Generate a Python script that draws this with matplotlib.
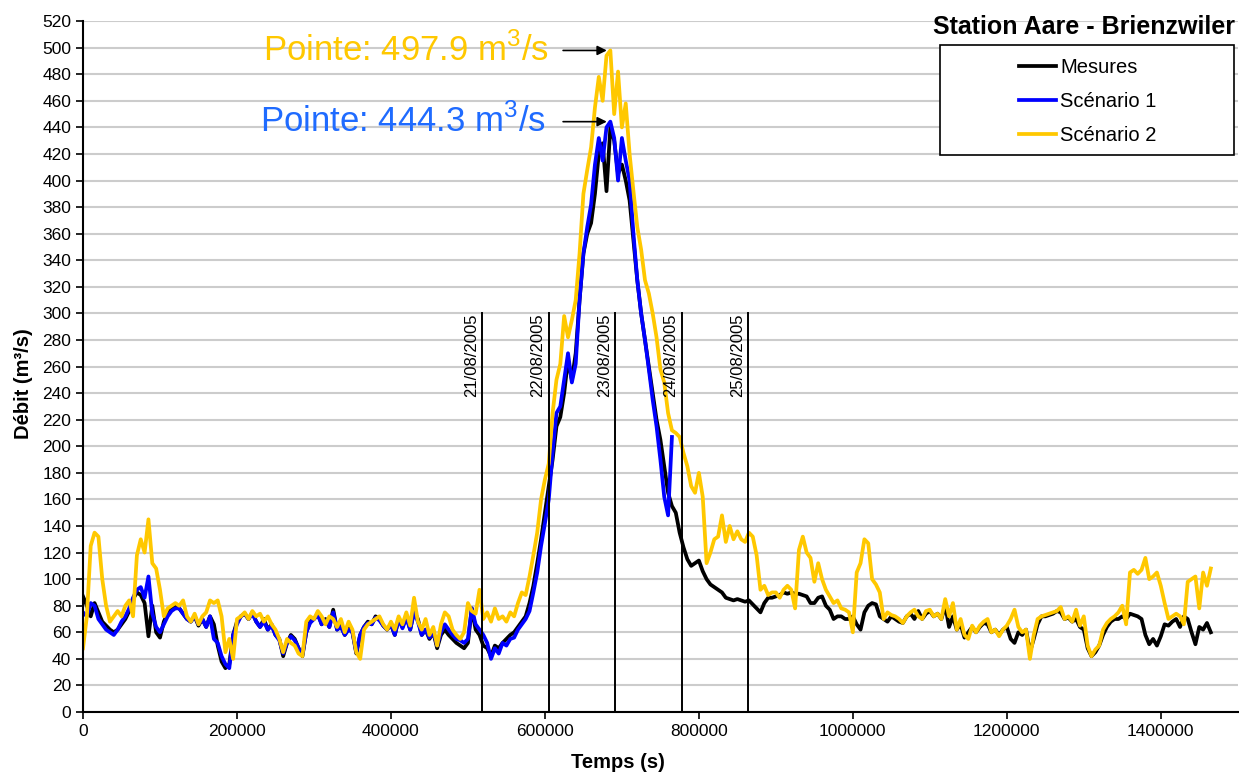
import numpy as np
import matplotlib
matplotlib.use("Agg")
import matplotlib.pyplot as plt
from matplotlib.patches import Rectangle

plt.rcParams["font.family"] = ["Liberation Sans", "DejaVu Sans"]
plt.rcParams["mathtext.fontset"] = "custom"
plt.rcParams["mathtext.rm"] = "Liberation Sans"

# time grid (s), one reading every 5000 s
temps = np.arange(0, 1470000, 5000)
temps_sc1 = np.arange(0, 770000, 5000)

mesures = [
    87, 80, 72, 82, 75, 68, 65, 62, 60, 62, 66, 70, 76, 85, 90, 88, 82, 57, 80, 60,
    56, 68, 75, 78, 80, 78, 74, 70, 68, 72, 65, 70, 64, 72, 66, 50, 38, 33, 36, 58,
    68, 72, 74, 70, 75, 68, 64, 70, 62, 66, 58, 55, 42, 52, 58, 55, 48, 42, 60, 68,
    70, 74, 66, 70, 64, 77, 62, 65, 58, 63, 60, 44, 58, 64, 68, 66, 72, 70, 65, 62,
    66, 58, 70, 64, 72, 62, 76, 70, 58, 62, 55, 60, 48, 58, 62, 58, 55, 52, 50, 48,
    52, 78, 62, 58, 50, 48, 42, 50, 48, 52, 55, 58, 60, 64, 68, 72, 82, 95, 112, 130,
    150, 170, 190, 215, 222, 240, 265, 250, 270, 310, 345, 360, 368, 390, 420, 428, 392, 440, 430, 405,
    412, 400, 385, 355, 325, 300, 280, 260, 240, 220, 205, 185, 165, 155, 150, 135, 124, 115, 110, 112,
    114, 106, 100, 96, 94, 92, 90, 86, 85, 84, 85, 84, 83, 84, 81, 78, 75, 82, 86, 86,
    87, 88, 90, 89, 90, 89, 89, 88, 87, 82, 82, 86, 87, 80, 77, 70, 72, 72, 70, 70,
    72, 66, 62, 75, 80, 82, 81, 72, 70, 68, 72, 70, 68, 67, 72, 74, 70, 76, 70, 74,
    76, 72, 74, 70, 80, 64, 72, 62, 66, 56, 60, 64, 60, 64, 67, 66, 60, 62, 58, 62,
    64, 55, 52, 60, 58, 62, 45, 55, 66, 72, 72, 73, 74, 76, 75, 70, 71, 68, 70, 64,
    62, 48, 42, 45, 50, 58, 64, 68, 70, 70, 72, 70, 74, 73, 72, 70, 58, 51, 55, 50,
    57, 66, 65, 68, 70, 64, 72, 70, 60, 51, 64, 62, 67, 60,
]

scenario1 = [
    75, 72, 82, 80, 70, 66, 62, 60, 58, 62, 68, 72, 78, 86, 92, 94, 86, 102, 74, 64,
    60, 66, 72, 76, 78, 78, 74, 70, 68, 72, 66, 70, 64, 72, 55, 52, 42, 36, 33, 58,
    66, 72, 74, 70, 74, 68, 64, 68, 62, 65, 58, 54, 44, 52, 57, 54, 48, 43, 60, 67,
    70, 73, 66, 69, 64, 75, 62, 64, 58, 62, 60, 45, 58, 64, 67, 66, 71, 69, 65, 62,
    66, 58, 70, 63, 71, 62, 75, 68, 58, 62, 56, 60, 50, 60, 66, 62, 58, 55, 54, 52,
    55, 78, 66, 62, 58, 52, 40, 48, 44, 52, 50, 55, 56, 62, 66, 70, 76, 90, 105, 125,
    142, 160, 195, 225, 230, 250, 270, 248, 262, 310, 345, 365, 382, 412, 432, 415, 440, 444.3, 432, 400,
    432, 415, 400, 360, 325, 300, 280, 258, 235, 215, 190, 162, 148, 207,
]

scenario2 = [
    48, 72, 125, 135, 132, 100, 80, 68, 72, 76, 72, 80, 84, 72, 118, 130, 120, 145, 112, 108,
    92, 72, 78, 80, 82, 80, 84, 72, 68, 74, 66, 72, 75, 84, 82, 84, 72, 45, 55, 40,
    70, 72, 75, 70, 76, 72, 74, 68, 72, 66, 62, 55, 45, 55, 52, 50, 44, 42, 68, 72,
    70, 76, 72, 66, 72, 70, 64, 70, 60, 68, 62, 45, 40, 62, 66, 68, 70, 72, 66, 62,
    68, 62, 72, 66, 75, 65, 86, 68, 62, 70, 58, 64, 50, 66, 75, 72, 62, 58, 55, 60,
    82, 76, 74, 92, 70, 75, 68, 78, 70, 72, 68, 75, 72, 82, 90, 88, 102, 118, 135, 160,
    175, 187, 225, 250, 262, 298, 282, 295, 310, 345, 390, 408, 425, 455, 478, 460, 494, 497.9, 450, 482,
    440, 458, 420, 392, 365, 348, 325, 315, 300, 282, 258, 248, 225, 212, 210, 207, 195, 185, 170, 165,
    180, 162, 112, 120, 130, 132, 148, 128, 140, 130, 136, 130, 128, 135, 132, 118, 92, 95, 88, 90,
    90, 86, 92, 95, 92, 78, 122, 132, 120, 116, 98, 112, 100, 92, 87, 82, 84, 78, 77, 75,
    60, 105, 112, 130, 127, 100, 96, 90, 70, 75, 73, 72, 70, 67, 72, 75, 77, 72, 70, 76,
    77, 72, 74, 70, 85, 72, 82, 62, 70, 58, 55, 65, 60, 65, 68, 70, 60, 62, 57, 62,
    65, 70, 77, 64, 60, 62, 40, 58, 70, 72, 73, 74, 75, 76, 79, 70, 72, 68, 77, 65,
    72, 50, 42, 47, 50, 62, 67, 70, 72, 75, 80, 66, 105, 107, 104, 107, 116, 100, 102, 105,
    95, 82, 70, 72, 74, 72, 66, 98, 100, 102, 78, 105, 95, 108,
]

dates = ["21/08/2005", "22/08/2005", "23/08/2005", "24/08/2005", "25/08/2005"]
dates_s = [518400, 604800, 691200, 777600, 864000]

fig = plt.figure(figsize=(12.39, 7.72), dpi=100)
ax = fig.add_axes([0.067, 0.0777, 0.932, 0.895])

ax.plot(temps, mesures, color="black", lw=2.7, label="Mesures")
ax.plot(temps_sc1, scenario1, color="#0000FF", lw=2.7, label="Scénario 1")
ax.plot(temps, scenario2, color="#FFC800", lw=2.7, label="Scénario 2")

# day markers
for d, lab in zip(dates_s, dates):
    ax.plot([d, d], [0, 300], color="black", lw=1.4, zorder=4)
    ax.text(d - 4000, 300, lab, rotation=90, ha="right", va="top", fontsize=12)

# peak annotations
ax.annotate("", xy=(684000, 497.9), xytext=(620000, 497.9),
            arrowprops=dict(arrowstyle="-|>", color="black", lw=1.2, mutation_scale=14))
ax.text(605000, 497.9, "Pointe: 497.9 m$^3$/s", color="#FFC800", fontsize=25,
        ha="right", va="center")
ax.annotate("", xy=(684000, 444.3), xytext=(620000, 444.3),
            arrowprops=dict(arrowstyle="-|>", color="black", lw=1.2, mutation_scale=14))
ax.text(602000, 444.3, "Pointe: 444.3 m$^3$/s", color="#1F6BFF", fontsize=25,
        ha="right", va="center")

ax.set_xlim(0, 1500000)
ax.set_ylim(0, 520)
ax.set_xticks(np.arange(0, 1500000, 200000))
ax.set_xticklabels([str(v) for v in range(0, 1500000, 200000)])
ax.set_yticks(np.arange(0, 521, 20))
ax.tick_params(labelsize=12.5, length=5, width=1.2, direction="out")
ax.yaxis.grid(True, color="#cccccc", lw=1.5)
ax.set_axisbelow(True)
for s in ["top", "right"]:
    ax.spines[s].set_visible(False)
for s in ["left", "bottom"]:
    ax.spines[s].set_linewidth(1.5)

ax.set_xlabel("Temps (s)", fontsize=14.5, fontweight="bold")
ax.set_ylabel("Débit (m³/s)", fontsize=14.5, fontweight="bold")
ax.xaxis.set_label_coords(0.463, -0.06)
ax.yaxis.set_label_coords(-0.043, 0.475)

fig.text(0.9968, 0.965, "Station Aare - Brienzwiler", ha="right", va="center",
         fontsize=18, fontweight="bold")

ax.add_patch(Rectangle((0.742, 0.806), 0.255, 0.159, transform=ax.transAxes,
                       facecolor="white", edgecolor="black", lw=1.2,
                       clip_on=False, zorder=6))
leg = ax.legend(loc="center", bbox_to_anchor=(0.870, 0.884), frameon=False,
                fontsize=14.5, handlelength=1.85, handletextpad=0.2,
                labelspacing=0.75)
leg.set_zorder(7)

fig.savefig("out.png", dpi=100)
